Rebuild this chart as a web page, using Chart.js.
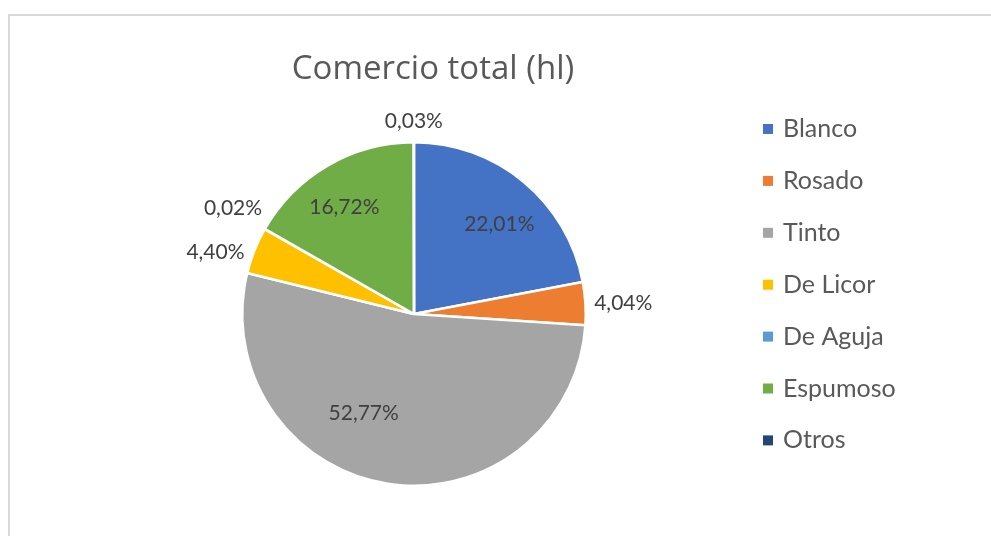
<!DOCTYPE html>
<html>
<head>
<meta charset="utf-8">
<script src="https://cdn.jsdelivr.net/npm/chart.js@4"></script>
<style>
  body { margin: 0; background: #fff; }
  canvas { display: block; }
</style>
</head>
<body>
<canvas id="wineChart" width="991" height="536"></canvas>
<script>
const titleText = "Comercio total (hl)";
const categories = ["Blanco", "Rosado", "Tinto", "De Licor", "De Aguja", "Espumoso", "Otros"];
const shares = [22.01, 4.04, 52.77, 4.40, 0.02, 16.72, 0.03];
const colors = ["#4472C4", "#ED7D31", "#A5A5A5", "#FFC000", "#5B9BD5", "#70AD47", "#264478"];

// label placement per slice: [angle shift in degrees, distance as fraction of radius]
const labelPlacement = [[4, 0.72], [0.5, 1.22], [18, 0.65], [-4.5, 1.21], [0.6, 1.22], [-3, 0.74], [0, 1.12]];

const fontFamily = "Lato, 'Open Sans', sans-serif";

const extras = {
  id: "extras",
  beforeDraw(chart) {
    const ctx = chart.ctx;
    ctx.save();
    ctx.strokeStyle = "#d9d9d9";
    ctx.lineWidth = 2;
    ctx.beginPath();
    ctx.moveTo(9, 540);
    ctx.lineTo(9, 15);
    ctx.lineTo(995, 15);
    ctx.stroke();
    ctx.restore();
  },
  afterDraw(chart) {
    const ctx = chart.ctx;
    ctx.save();

    // title
    ctx.fillStyle = "#595959";
    ctx.font = "33px 'Open Sans', sans-serif";
    ctx.textAlign = "center";
    ctx.textBaseline = "alphabetic";
    ctx.fillText(titleText, 433, 79);

    // data labels
    const arcs = chart.getDatasetMeta(0).data;
    ctx.textBaseline = "middle";
    ctx.fillStyle = "#404040";
    ctx.font = "21px " + fontFamily;
    arcs.forEach((arc, i) => {
      const mid = (arc.startAngle + arc.endAngle) / 2 + labelPlacement[i][0] * Math.PI / 180;
      const d = arc.outerRadius * labelPlacement[i][1];
      const x = arc.x + Math.cos(mid) * d;
      const y = arc.y + Math.sin(mid) * d;
      ctx.fillText(shares[i].toFixed(2).replace(".", ",") + "%", x, y);
    });

    // legend
    ctx.font = "25px " + fontFamily;
    ctx.textAlign = "left";
    categories.forEach((name, i) => {
      const y = 129 + i * 51.9;
      ctx.fillStyle = colors[i];
      ctx.fillRect(763, y - 5, 10, 10);
      ctx.fillStyle = "#595959";
      ctx.fillText(name, 783, y);
    });
    ctx.restore();
  }
};

new Chart(document.getElementById("wineChart"), {
  type: "pie",
  data: {
    labels: categories,
    datasets: [{
      data: shares,
      backgroundColor: colors,
      borderColor: "#ffffff",
      borderWidth: 2.5
    }]
  },
  options: {
    responsive: false,
    animation: false,
    devicePixelRatio: 1,
    layout: { padding: { top: 141, bottom: 49, left: 0, right: 163 } },
    plugins: {
      legend: { display: false },
      title: { display: false },
      tooltip: { enabled: false }
    }
  },
  plugins: [extras]
});
</script>
</body>
</html>
